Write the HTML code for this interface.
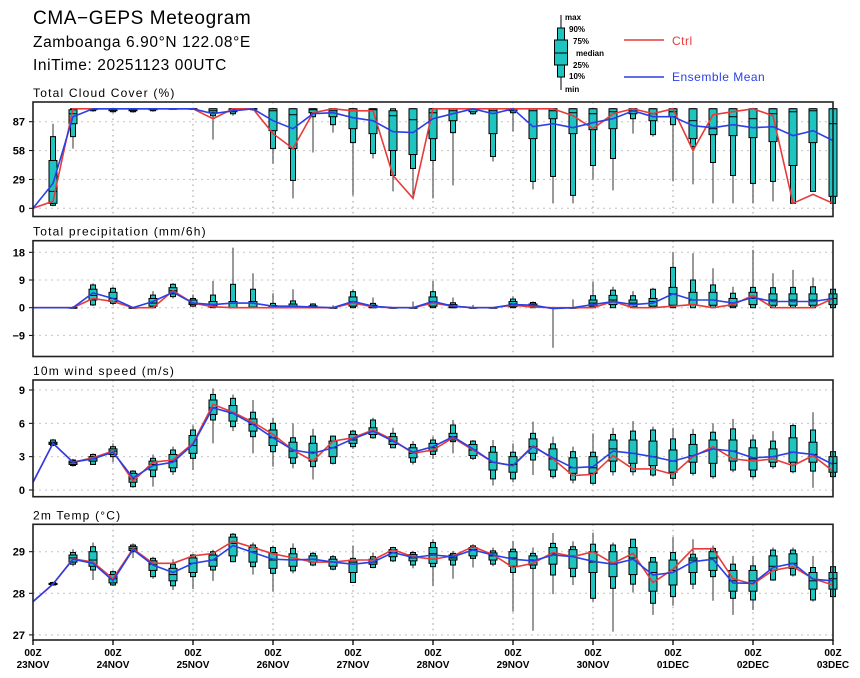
<!DOCTYPE html>
<html><head><meta charset="utf-8"><style>
body{margin:0;background:#fff;}
svg{display:block;font-family:"Liberation Sans",sans-serif;}
</style></head><body>
<svg id="chart" width="860" height="678" viewBox="0 0 860 678">
<text x="33" y="24" font-size="19" letter-spacing="0.6">CMA−GEPS Meteogram</text>
<text x="33" y="47" font-size="15.5" letter-spacing="0.6">Zamboanga 6.90°N 122.08°E</text>
<text x="33" y="70" font-size="15.5" letter-spacing="0.6">IniTime: 20251123 00UTC</text>
<g>
<line x1="561" y1="15" x2="561" y2="90" stroke="#000" stroke-width="1"/>
<rect x="557.5" y="28" width="7" height="49" fill="#1dc4c0" stroke="#000"/>
<rect x="554.5" y="40" width="13" height="25" fill="#1dc4c0" stroke="#000"/>
<line x1="554.5" y1="53" x2="567.5" y2="53" stroke="#000"/>
<g font-size="8" font-weight="bold">
<text x="565" y="20">max</text><text x="569" y="32">90%</text><text x="573" y="44">75%</text>
<text x="576" y="56">median</text><text x="573" y="68">25%</text><text x="569" y="79">10%</text><text x="565" y="92">min</text>
</g>
<line x1="624" y1="40" x2="664" y2="40" stroke="#e83a3a" stroke-width="1.5"/>
<text x="672" y="45" font-size="12" letter-spacing="0.5" fill="#e83a3a">Ctrl</text>
<line x1="624" y1="77" x2="664" y2="77" stroke="#2a3fe8" stroke-width="1.5"/>
<text x="672" y="81" font-size="12" letter-spacing="0.5" fill="#2a3fe8">Ensemble Mean</text>
</g>
</svg>
<script>
const dayLabels=["23NOV","24NOV","25NOV","26NOV","27NOV","28NOV","29NOV","30NOV","01DEC","02DEC","03DEC"];
const cloudTicks=[0,29,58,87];
const precipTicks=[-9,0,9,18];
const windTicks=[0,3,6,9];
const tempTicks=[27,28,29];
const panelTitles=["Total Cloud Cover (%)","Total precipitation (mm/6h)","10m wind speed (m/s)","2m Temp (°C)"];

const cloudCtrl=[0,7,100,100,100,100,100,100,100,90,100,100,75,60,96,100,98,98,33,10,100,100,100,100,100,100,100,93,80,95,100,95,100,58,94,97,100,93,5,14,5];
const cloudMean=[0,25,92,100,100,100,100,100,100,95,98,100,88,80,95,96,91,88,77,76,90,95,100,95,100,82,85,81,86,90,98,92,92,83,81,84,81,82,73,78,68];
const cloudMin=[0,2,60,97,96,96,97,100,100,69,93,98,45,10,56,76,13,50,17,10,10,23,94,47,77,19,5,5,29,18,75,72,27,24,5,5,5,7,5,17,5];
const cloudP10=[0,3,72,98,97,97,98,100,100,93,95,99,60,28,92,84,66,55,33,40,48,76,95,52,96,27,32,13,43,50,90,74,84,62,46,33,25,27,5,17,5];
const cloudP25=[0,5,85,99,98,98,99,100,100,96,97,100,78,60,96,92,80,75,58,54,70,88,97,75,98,70,90,75,79,80,95,88,92,70,74,73,71,67,43,66,12];
const cloudMed=[0,17,95,100,99,99,100,100,100,98,99,100,98,94,99,98,98,99,93,89,96,98,100,98,100,98,98,96,95,97,98,95,97,88,80,92,90,95,97,98,85];
const cloudP75=[0,48,99,100,100,100,100,100,100,100,100,100,100,100,100,100,100,100,98,100,100,100,100,100,100,100,100,100,100,100,100,100,100,100,100,100,100,100,100,100,100];
const cloudP90=[0,72,100,100,100,100,100,100,100,100,100,100,100,100,100,100,100,100,100,100,100,100,100,100,100,100,100,100,100,100,100,100,100,100,100,100,100,100,100,100,100];
const cloudMax=[0,85,100,100,100,100,100,100,100,100,100,100,100,100,100,100,100,100,100,100,100,100,100,100,100,100,100,100,100,100,100,100,100,100,100,100,100,100,100,100,100];

const precipCtrl=[0,0,0,3,2,0,0,5.5,1.5,0.3,0,0,0,0,0,0,1.5,0.3,0,0,1.5,0.5,0,0,0.8,0.2,0,0,0,2,0,0,0.5,1,0,1,4,0,0,0,3];
const precipMean=[0,0,0,4.8,3,0,2,5,1.5,1,1.5,1.5,0.5,0.5,0.2,0,2,0.5,0,0,2,0.5,0,0,1,0.8,-0.3,0,1,2,1,1.5,4.5,2.5,2.5,1.5,3.3,2,2,2,3];
const precipMin=[0,0,0,0.5,0.8,0,0,3,0.3,0,0,0,0,0,0,0,0,0,0,0,0,0,0,0,0,0,-13,0,0,0,0,0,0,0,0,0,0,0,0,0,0];
const precipP10=[0,0,0,0.9,1.4,0,0,3.6,0.5,0,0,0,0,0,0,0,0,0,0,0,0,0,0,0,0,0,0,0,0,0,0,0,0,0,0,0,0,0,0,0,0];
const precipP25=[0,0,0,2.5,2,0,0.5,4.5,1,0.2,0,0,0,0,0,0,0.5,0,0,0,0.5,0,0,0,0.3,0.2,0,0,0.5,1,0.3,0.5,0.8,1,0.8,0.5,1,0.8,0.8,0.8,1];
const precipMed=[0,0,0,4,3,0,1.5,5.5,1.5,0.5,0,0.2,0,0.3,0.1,0,2,0.3,0,0,2,0.3,0,0,1.2,0.5,0,0,1.5,2.5,1.5,2,4.5,2.5,2.5,1.5,3,2.5,2.5,2.5,3];
const precipP75=[0,0,0,6,5,0,3,6.5,2.5,2,2,2,0.7,1.2,0.6,0,3.5,0.8,0,0,3.5,1,0,0,2,1.2,0,0,2.5,4,2.5,3,6.6,5,5,3,5,4.5,4.5,4.5,4.5];
const precipP90=[0,0,0,7.4,6.3,0,4.1,7.6,3,4.1,7.6,6,1.4,2.2,1.2,0,5.2,1.4,0,0,5.2,1.6,0,0,2.8,1.7,0,0,3.9,5.7,3.9,6,13.1,9,7.4,4.7,6.6,6.5,6.6,6.8,6];
const precipMax=[0,0,0.5,7.9,6.8,0.3,5.4,8,4.3,8.7,19.5,11.2,4.7,6,1.5,0.8,6,3.3,0,2,8.7,3.3,0.9,0,3.6,2,0.3,2.7,8.5,6.8,5.4,6.5,18,17.7,12.8,6.8,18.8,11.2,12.3,9.8,7];

const windCtrl=[0.7,4.2,2.5,2.9,3.5,0.8,2.5,2.7,4.2,7.7,7,6.1,5,3.6,2.6,4.4,4.7,5.4,4.5,3.3,3.6,4.7,3.6,2.5,2.2,4,2.8,1.3,1.4,3.1,1.9,1.9,1.4,3,3.9,2.8,2.6,2.8,2.2,3.1,1.7];
const windMean=[0.7,4.2,2.5,2.8,3.4,1.1,2.2,2.5,4.1,7.4,6.9,5.9,4.7,3.6,3.3,3.8,4.6,5.3,4.4,3.4,3.9,4.8,3.7,2.5,2.2,3.9,2.9,2,2.1,3.5,3.3,3,2.6,3.1,3.7,3.5,2.9,3,3.4,3.2,2.3];
const windMin=[0.7,4,2.1,2.3,2.5,0.2,0.3,1.35,1.8,4.2,5.3,3.3,2.1,1.95,0.95,2.3,3.7,4.6,3.8,2.3,2.8,3.3,2.7,0.4,0.7,1.35,1,0.6,0.5,1.3,1.3,1.2,0.4,1.3,1,1.6,1,1.9,1.5,0.2,1];
const windP10=[0.7,4,2.2,2.3,3,0.3,1.2,1.65,2.85,6.3,5.7,4.8,3.45,2.4,2.1,2.4,3.9,4.7,3.8,2.5,3.2,4.35,2.85,1,1,2.7,1.2,0.9,0.6,1.65,1.65,1.35,1.05,1.5,1.2,1.8,1.2,2.1,1.65,1.7,1.2];
const windP25=[0.7,4.1,2.3,2.6,3.2,0.7,1.8,2,3.3,6.8,6.2,5.3,4,2.9,2.6,3,4.2,5,4.1,2.9,3.5,4.5,3.1,1.8,1.6,3.3,1.8,1.5,1.5,2.6,2.4,2.2,1.6,2.5,2.4,2.6,1.8,2.5,2.5,2.5,1.6];
const windMed=[0.7,4.2,2.45,2.8,3.5,1,2.3,2.6,4,7.4,6.9,5.9,4.7,3.5,3.4,3.8,4.5,5.3,4.4,3.3,3.8,4.8,3.6,2.5,2.3,3.9,2.8,2,2,3.7,3.3,3,2.6,3.1,3.7,3.5,2.8,3,3.4,3.2,2.4];
const windP75=[0.7,4.3,2.6,3,3.7,1.5,2.6,3.2,4.9,8.1,7.6,6.4,5.4,4.3,4.2,4.4,5,5.6,4.8,3.8,4.2,5.1,4.1,3.4,3,4.6,3.7,2.9,3,4.5,4.5,4.4,3.6,4.1,4.5,4.5,3.8,3.7,4.7,4.3,3];
const windP90=[0.7,4.5,2.7,3.2,3.9,1.7,2.85,3.6,5.4,8.6,8.25,7,6,4.7,4.85,4.85,5.3,6.3,5.1,4.1,4.5,5.85,4.4,3.9,3.4,5.1,4.15,3.45,3.4,5,5.3,5.4,4.6,5,5.2,5.5,4.5,4.4,5.8,5.4,3.45];
const windMax=[0.7,4.6,2.8,3.3,4.2,1.8,3.2,3.9,5.8,9.15,8.6,8.1,6.5,6,5.5,4.9,5.4,6.5,5.6,4.4,4.8,6.3,4.5,4.5,4.2,6.15,4.8,3.9,5.1,5.6,6.2,5.7,5.6,5.5,6,6.4,5,5.3,6,7,3.5];

const tempCtrl=[27.8,28.22,28.83,28.75,28.35,29.07,28.72,28.72,28.9,28.96,29.25,29.1,28.95,28.85,28.75,28.75,28.8,28.8,29.05,28.88,28.82,28.9,29.12,28.93,28.62,28.72,28.98,28.88,29,28.72,28.96,28.26,28.58,29.07,29.07,28.35,28.22,28.55,28.64,28.35,28.2];
const tempMean=[27.8,28.22,28.82,28.72,28.3,29.05,28.68,28.5,28.72,28.8,29.15,28.98,28.82,28.8,28.82,28.75,28.7,28.75,28.98,28.86,28.92,28.88,29.04,28.92,28.82,28.78,28.92,28.88,28.77,28.7,28.82,28.44,28.5,28.76,28.82,28.25,28.24,28.62,28.72,28.34,28.3];
const tempMin=[27.8,28.18,28.65,28.32,28.18,28.85,28.35,28.08,28.1,28.3,28.75,28.45,28.04,28.48,28.65,28.55,28.25,28.6,28.75,28.6,28.18,28.35,28.62,28.65,27.56,27.1,27.98,28.2,27.8,27.08,28.02,27.48,27.7,28.1,27.82,27.48,27.6,28.3,28.4,27.8,27.9];
const tempP10=[27.8,28.2,28.7,28.56,28.2,29,28.4,28.18,28.4,28.56,28.76,28.64,28.48,28.54,28.68,28.58,28.26,28.62,28.78,28.68,28.64,28.68,28.84,28.7,28.5,28.6,28.44,28.4,27.88,28.12,28.22,27.76,27.92,28.22,28.4,27.88,27.84,28.32,28.44,27.84,27.92];
const tempP25=[27.8,28.21,28.75,28.65,28.25,29.03,28.55,28.3,28.5,28.65,28.9,28.75,28.6,28.65,28.75,28.65,28.5,28.7,28.88,28.78,28.72,28.8,28.9,28.8,28.65,28.68,28.7,28.6,28.5,28.4,28.45,28.05,28.2,28.5,28.55,28.05,28.05,28.55,28.6,28.1,28.1];
const tempMed=[27.8,28.22,28.85,28.8,28.35,29.07,28.7,28.45,28.72,28.8,29.2,29.0,28.8,28.8,28.82,28.75,28.75,28.75,28.98,28.85,28.95,28.85,29.05,28.9,28.85,28.8,28.95,28.9,28.75,28.7,28.85,28.5,28.55,28.8,28.85,28.3,28.3,28.65,28.72,28.3,28.35];
const tempP75=[27.8,28.24,28.92,29,28.45,29.12,28.78,28.6,28.85,28.92,29.35,29.1,28.98,28.95,28.9,28.82,28.8,28.82,29.05,28.93,29.1,28.92,29.1,28.97,29,28.9,29.1,29.05,29,29,29.1,28.75,28.8,28.85,29,28.55,28.55,28.9,28.95,28.5,28.5];
const tempP90=[27.8,28.26,28.98,29.12,28.52,29.16,28.84,28.7,28.92,29,29.42,29.16,29.1,29.08,28.96,28.88,28.84,28.88,29.1,28.98,29.22,28.96,29.14,29.02,29.06,28.96,29.2,29.12,29.18,29.16,29.3,28.86,28.98,28.94,29.08,28.7,28.66,29.04,29.04,28.62,28.64];
const tempMax=[27.8,28.28,29.06,29.22,28.55,29.2,28.88,28.82,28.95,29.05,29.45,29.22,29.15,29.2,29.0,28.92,29.15,28.98,29.12,29.02,29.3,29.02,29.18,29.1,29.25,29.1,29.45,29.25,29.46,29.22,29.3,28.86,29.35,29.3,29.15,28.9,28.9,29.1,29.1,28.9,28.7];

const NS="http://www.w3.org/2000/svg";
const svg=document.getElementById("chart");
const X0=33,X1=833,NSTEP=40;
function xScale(i){return X0+(X1-X0)*i/NSTEP;}
function mk(tag,attrs,parent){const e=document.createElementNS(NS,tag);for(const k in attrs)e.setAttribute(k,attrs[k]);(parent||svg).appendChild(e);return e;}

const panels=[
 {key:"cloud",top:102,bot:216.5,v0:0,y0:208.3,v1:87,y1:121.7,ticks:cloudTicks,ctrl:cloudCtrl,mean:cloudMean,mn:cloudMin,p10:cloudP10,p25:cloudP25,med:cloudMed,p75:cloudP75,p90:cloudP90,mx:cloudMax,first:1},
 {key:"precip",top:240.7,bot:356.5,v0:0,y0:307.7,v1:18,y1:252.3,ticks:precipTicks,ctrl:precipCtrl,mean:precipMean,mn:precipMin,p10:precipP10,p25:precipP25,med:precipMed,p75:precipP75,p90:precipP90,mx:precipMax,first:2},
 {key:"wind",top:380,bot:496.7,v0:0,y0:490,v1:9,y1:390,ticks:windTicks,ctrl:windCtrl,mean:windMean,mn:windMin,p10:windP10,p25:windP25,med:windMed,p75:windP75,p90:windP90,mx:windMax,first:1},
 {key:"temp",top:524.3,bot:640,v0:28,y0:593.3,v1:29,y1:551.7,ticks:tempTicks,ctrl:tempCtrl,mean:tempMean,mn:tempMin,p10:tempP10,p25:tempP25,med:tempMed,p75:tempP75,p90:tempP90,mx:tempMax,first:1}
];

panels.forEach((p,pi)=>{
 const yS=v=>p.y0+(v-p.v0)*(p.y1-p.y0)/(p.v1-p.v0);
 const g=mk("g",{});
 
 
 const t=mk("text",{x:33,y:p.top-5,"font-size":12,"letter-spacing":"1.2"},g);
 t.textContent=panelTitles[pi];
 
 
 for(let d=1;d<dayLabels.length-1;d++){
  const gl=mk("line",{x1:xScale(d*4),x2:xScale(d*4),y1:p.top,y2:p.bot,stroke:"#b0b0b0","stroke-width":1.3,"stroke-dasharray":"1.5,4"},g);
  
  
 }
 p.ticks.forEach(v=>{
  const y=yS(v);
  const gl=mk("line",{x1:X0,x2:X1,y1:y,y2:y,stroke:"#c4c4c4","stroke-width":1,"stroke-dasharray":"2,4"},g);
  
  
  const tk=mk("line",{x1:X0-4,x2:X0,y1:y,y2:y,stroke:"#000"},g);
  
  
  const lb=mk("text",{x:25,y:y+4,"font-size":11,"font-weight":"bold","text-anchor":"end"},g);
  lb.textContent=(v<0?"−"+(-v):v);
  
  
 });
 for(let i=p.first;i<=NSTEP;i++){
  const x=xScale(i);
  const bg=mk("g",{},g);
  
  
  mk("line",{x1:x,x2:x,y1:yS(p.mx[i]),y2:yS(p.mn[i]),stroke:"#333","stroke-width":1},bg);
  const a=yS(p.p90[i]),b=yS(p.p10[i]);
  mk("rect",{x:x-2.5,y:a,width:5,height:Math.max(b-a,0.5),fill:"#1dc4c0",stroke:"#000","stroke-width":1},bg);
  const c=yS(p.p75[i]),d=yS(p.p25[i]);
  mk("rect",{x:x-4,y:c,width:8,height:Math.max(d-c,0.5),fill:"#1dc4c0",stroke:"#000","stroke-width":1},bg);
  const m=yS(p.med[i]);
  mk("line",{x1:x-4,x2:x+4,y1:m,y2:m,stroke:"#000","stroke-width":1},bg);
 }
 const ctrlPts=p.ctrl.map((v,i)=>xScale(i).toFixed(1)+","+yS(v).toFixed(1)).join(" ");
 const cl=mk("polyline",{points:ctrlPts,fill:"none",stroke:"#e83a3a","stroke-width":1.6},g);
 
 
 const meanPts=p.mean.map((v,i)=>xScale(i).toFixed(1)+","+yS(v).toFixed(1)).join(" ");
 const ml=mk("polyline",{points:meanPts,fill:"none",stroke:"#2a3fe8","stroke-width":1.6},g);
 
 
 const fr=mk("rect",{x:X0,y:p.top,width:X1-X0,height:p.bot-p.top,fill:"none",stroke:"#222","stroke-width":1.6},g);
 
 
});
dayLabels.forEach((lab,d)=>{
 const x=xScale(d*4);
 const tk=mk("line",{x1:x,x2:x,y1:640,y2:645,stroke:"#000","stroke-width":1.3});
 
 
 const t1=mk("text",{x:x,y:656,"font-size":10,"font-weight":"bold","text-anchor":"middle"});
 t1.textContent="00Z";
 
 
 const t2=mk("text",{x:x,y:668,"font-size":10,"font-weight":"bold","text-anchor":"middle"});
 t2.textContent=lab;
 
 
});
</script>
</body></html>
